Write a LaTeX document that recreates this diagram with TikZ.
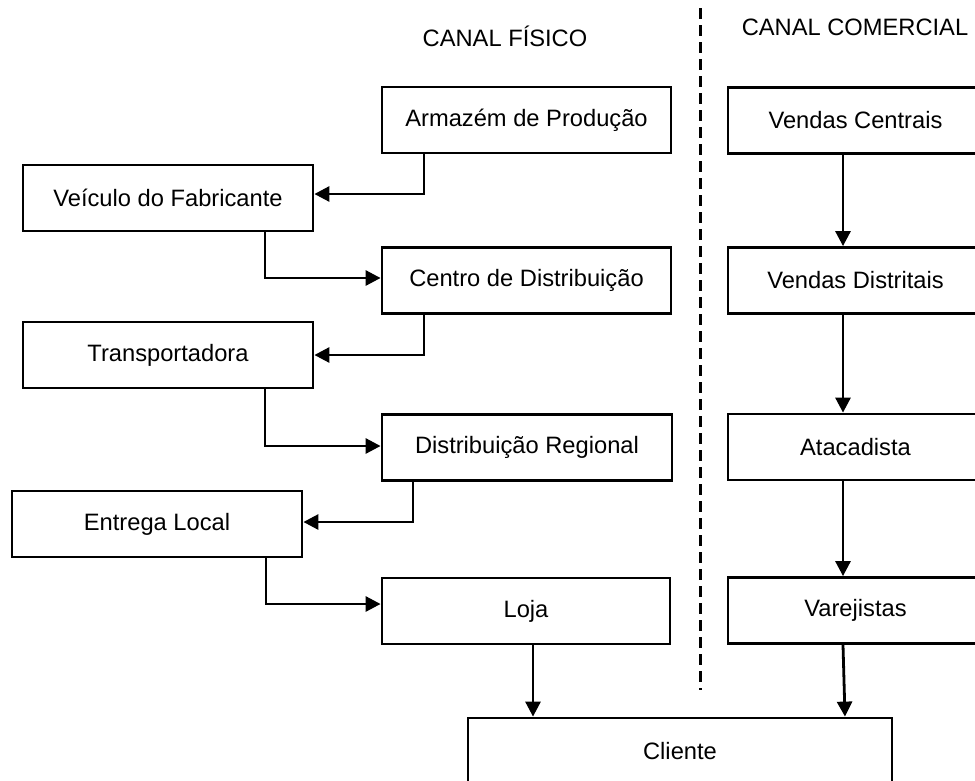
\documentclass[tikz,border=0pt]{standalone}
\usepackage{fontspec}
\setmainfont{Liberation Sans}
\usetikzlibrary{arrows.meta,calc}
\begin{document}
\begin{tikzpicture}[x=1pt,y=-1pt,
  every node/.style={font=\fontsize{23.7}{28}\selectfont},
  box/.style={draw, line width=2.8pt, inner sep=0pt, minimum height=66pt},
  lbox/.style={box, minimum width=290pt},
  rbox/.style={box, minimum width=255pt},
  arr/.style={line width=2.8pt, -{Triangle[length=15pt,width=15pt]}},
  sep/.style={line width=3pt, dash pattern=on 11pt off 6pt}]
\useasboundingbox (0,0) rectangle (975,780);
\clip (0,0) rectangle (975,780);
% headers
\node[anchor=base] (h1) at (505,46) {CANAL FÍSICO};
\node[anchor=base] (h2) at (855,35) {CANAL COMERCIAL};
% separator
\draw[sep] (700,8) -- (700,690);
% physical channel
\node[lbox, minimum width=289pt] (arm) at (526.5,120) {Armazém de Produção};
\node[lbox] (vei) at (168,198) {Veículo do Fabricante};
\node[lbox, minimum width=289pt] (cen) at (526.5,280.5) {Centro de Distribuição};
\node[lbox] (tra) at (168,355) {Transportadora};
\node[lbox] (dis) at (527,447.5) {Distribuição Regional};
\node[lbox] (ent) at (157,524) {Entrega Local};
\node[lbox, minimum width=288pt] (loj) at (526,611) {Loja};
% commercial channel
\node[rbox] (vc) at (855.5,120.5) {Vendas Centrais};
\node[rbox] (vd) at (855.5,280.5) {Vendas Distritais};
\node[rbox] (at) at (855.5,447) {Atacadista};
\node[rbox] (va) at (855.5,610.5) {Varejistas};
% client
\node[box, minimum width=424pt] (cli) at (680,751) {Cliente};
% connectors physical
\draw[arr] ([xshift=-102.5pt]arm.south) |- ([yshift=4pt]vei.east);
\draw[arr] ([xshift=97pt]vei.south) |- ([yshift=2.5pt]cen.west);
\draw[arr] ([xshift=-102.5pt]cen.south) |- (tra.east);
\draw[arr] ([xshift=97pt]tra.south) |- ([yshift=1.5pt]dis.west);
\draw[arr] ([xshift=-114pt]dis.south) |- ([yshift=2pt]ent.east);
\draw[arr] ([xshift=109pt]ent.south) |- ([yshift=7pt]loj.west);
% connectors commercial
\draw[arr] ([xshift=-12.5pt]vc.south) -- ([xshift=-12.5pt]vd.north);
\draw[arr] ([xshift=-12.5pt]vd.south) -- ([xshift=-12.5pt]at.north);
\draw[arr] ([xshift=-12.5pt]at.south) -- ([xshift=-12.5pt]va.north);
% to client
\draw[arr] ([xshift=7pt]loj.south) coordinate (l1) -- (l1 |- cli.north);
\draw[arr] ([xshift=-12.5pt]va.south) -- ([xshift=165pt]cli.north);
\end{tikzpicture}
\end{document}
